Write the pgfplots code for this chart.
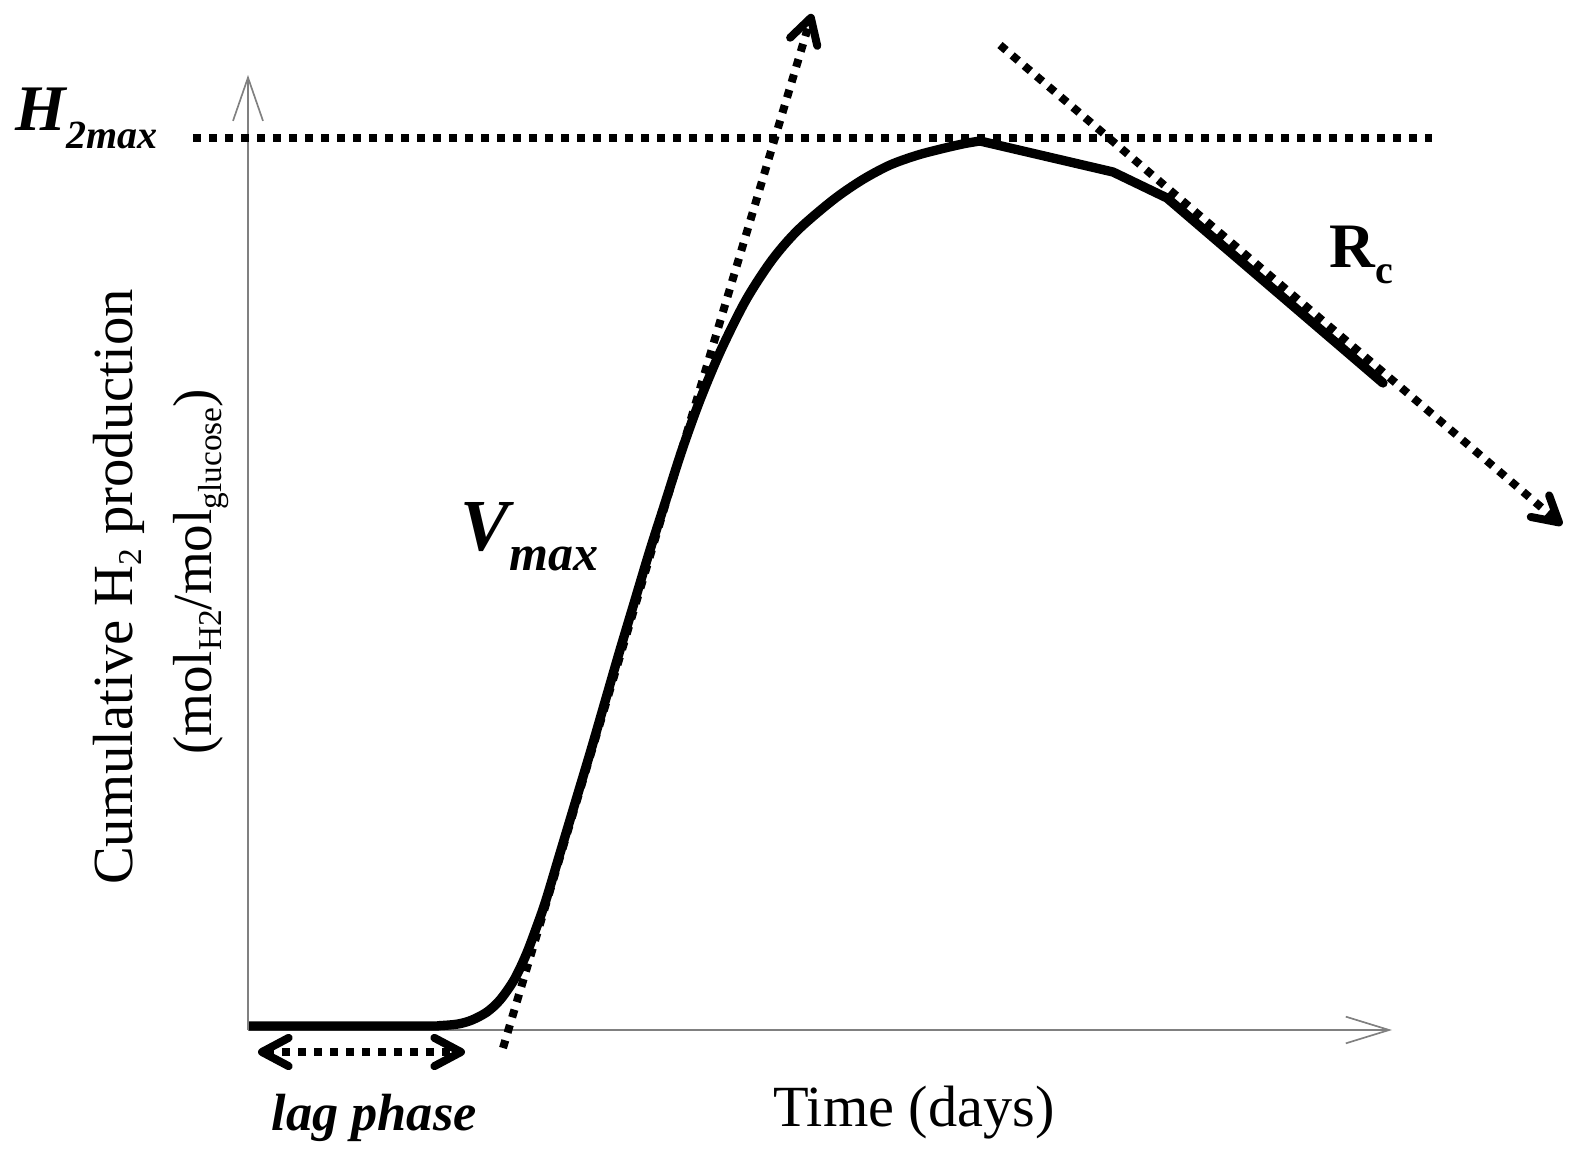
\documentclass[border=0pt]{standalone}
\usepackage{pgfplots}
\pgfplotsset{compat=1.18}
\usepackage{fontspec}
\setmainfont{Liberation Serif}
\usetikzlibrary{arrows.meta}
\newcommand{\sub}[2][3pt]{\raisebox{-#1}{\fontsize{10}{10}\selectfont #2}}
\begin{document}
\begin{tikzpicture}
\begin{axis}[
  width=471.9pt, height=345.6pt, scale only axis,
  xmin=0, xmax=1573, ymin=0, ymax=1152, y dir=reverse,
  hide axis, clip=false,
]
\path (rel axis cs:0,0) rectangle (rel axis cs:1,1);
% axes
\addplot[color=gray, line width=0.5pt, -{Straight Barb[length=13pt,width=9pt]}] coordinates {(248,1030) (248,75)};
\addplot[color=gray, line width=0.5pt, -{Straight Barb[length=13pt,width=8pt]}] coordinates {(248,1030) (1392,1030)};
% dotted guides
\addplot[black, line width=2.4pt, dash pattern=on 2.4pt off 2.4pt] coordinates {(193,138) (1432,138)};
\addplot[black, line width=2.4pt, dash pattern=on 2.4pt off 2.4pt, -{Straight Barb[length=7.5pt,width=8.5pt,round]}] coordinates {(503,1048) (812,14)};
\addplot[black, line width=2.4pt, dash pattern=on 2.4pt off 2.4pt, -{Straight Barb[length=7.5pt,width=8.5pt,round]}] coordinates {(1000,45) (1562,525)};
\addplot[black, line width=2.4pt, dash pattern=on 2.4pt off 2.4pt, {Straight Barb[length=8pt,width=8.5pt,round]}-{Straight Barb[length=8pt,width=8.5pt,round]}] coordinates {(258,1052) (465,1052)};
% curve
\addplot[black, line width=2.8pt, smooth, tension=0.5] coordinates {
(249,1026) (420,1026) (440,1025.6) (458,1024) (472,1020) (487,1012) (500,1000) (514,980) (526,955) (537,926) (546,900) (561,850) (576,800) (591,750) (605.5,700) (620,650) (635,600) (650,550) (666,500) (682,450) (700,400) (721,350) (746,300) (772,260) (798,230) (833,200) (862,180) (890,165) (918,155) (945,148) (965,143.5) (980,141)};
\addplot[black, line width=2.8pt, line cap=round] coordinates {(980,141) (1113,172) (1167,198) (1383,383)};
% labels
\node[anchor=base west, inner sep=0pt] at (axis cs:15,130) {\fontsize{19.5}{19.5}\selectfont\bfseries\itshape H\raisebox{-5.4pt}{\fontsize{12}{12}\selectfont 2max}};
\node[anchor=base west, inner sep=0pt] at (axis cs:460,550) {\fontsize{22}{22}\selectfont\bfseries\itshape V\raisebox{-6pt}{\fontsize{15}{15}\selectfont max}};
\node[anchor=base west, inner sep=0pt] at (axis cs:1329,267) {\fontsize{19}{19}\selectfont\bfseries R\raisebox{-4.8pt}{\fontsize{12}{12}\selectfont c}};
\node[anchor=base west, inner sep=0pt] at (axis cs:271,1130) {\fontsize{15.7}{15.7}\selectfont\bfseries\itshape lag phase};
\node[anchor=base, inner sep=0pt] at (axis cs:914,1126) {\fontsize{17.5}{17.5}\selectfont Time (days)};
\node[anchor=base, inner sep=0pt, rotate=90] at (axis cs:133,587) {\fontsize{17}{17}\selectfont Cumulative H\sub[2.5pt]{2} production};
\node[anchor=base, inner sep=0pt, rotate=90] at (axis cs:211,572) {\fontsize{16.5}{16.5}\selectfont (mol\sub{H2}/mol\sub{glucose})};
\end{axis}
\end{tikzpicture}
\end{document}
